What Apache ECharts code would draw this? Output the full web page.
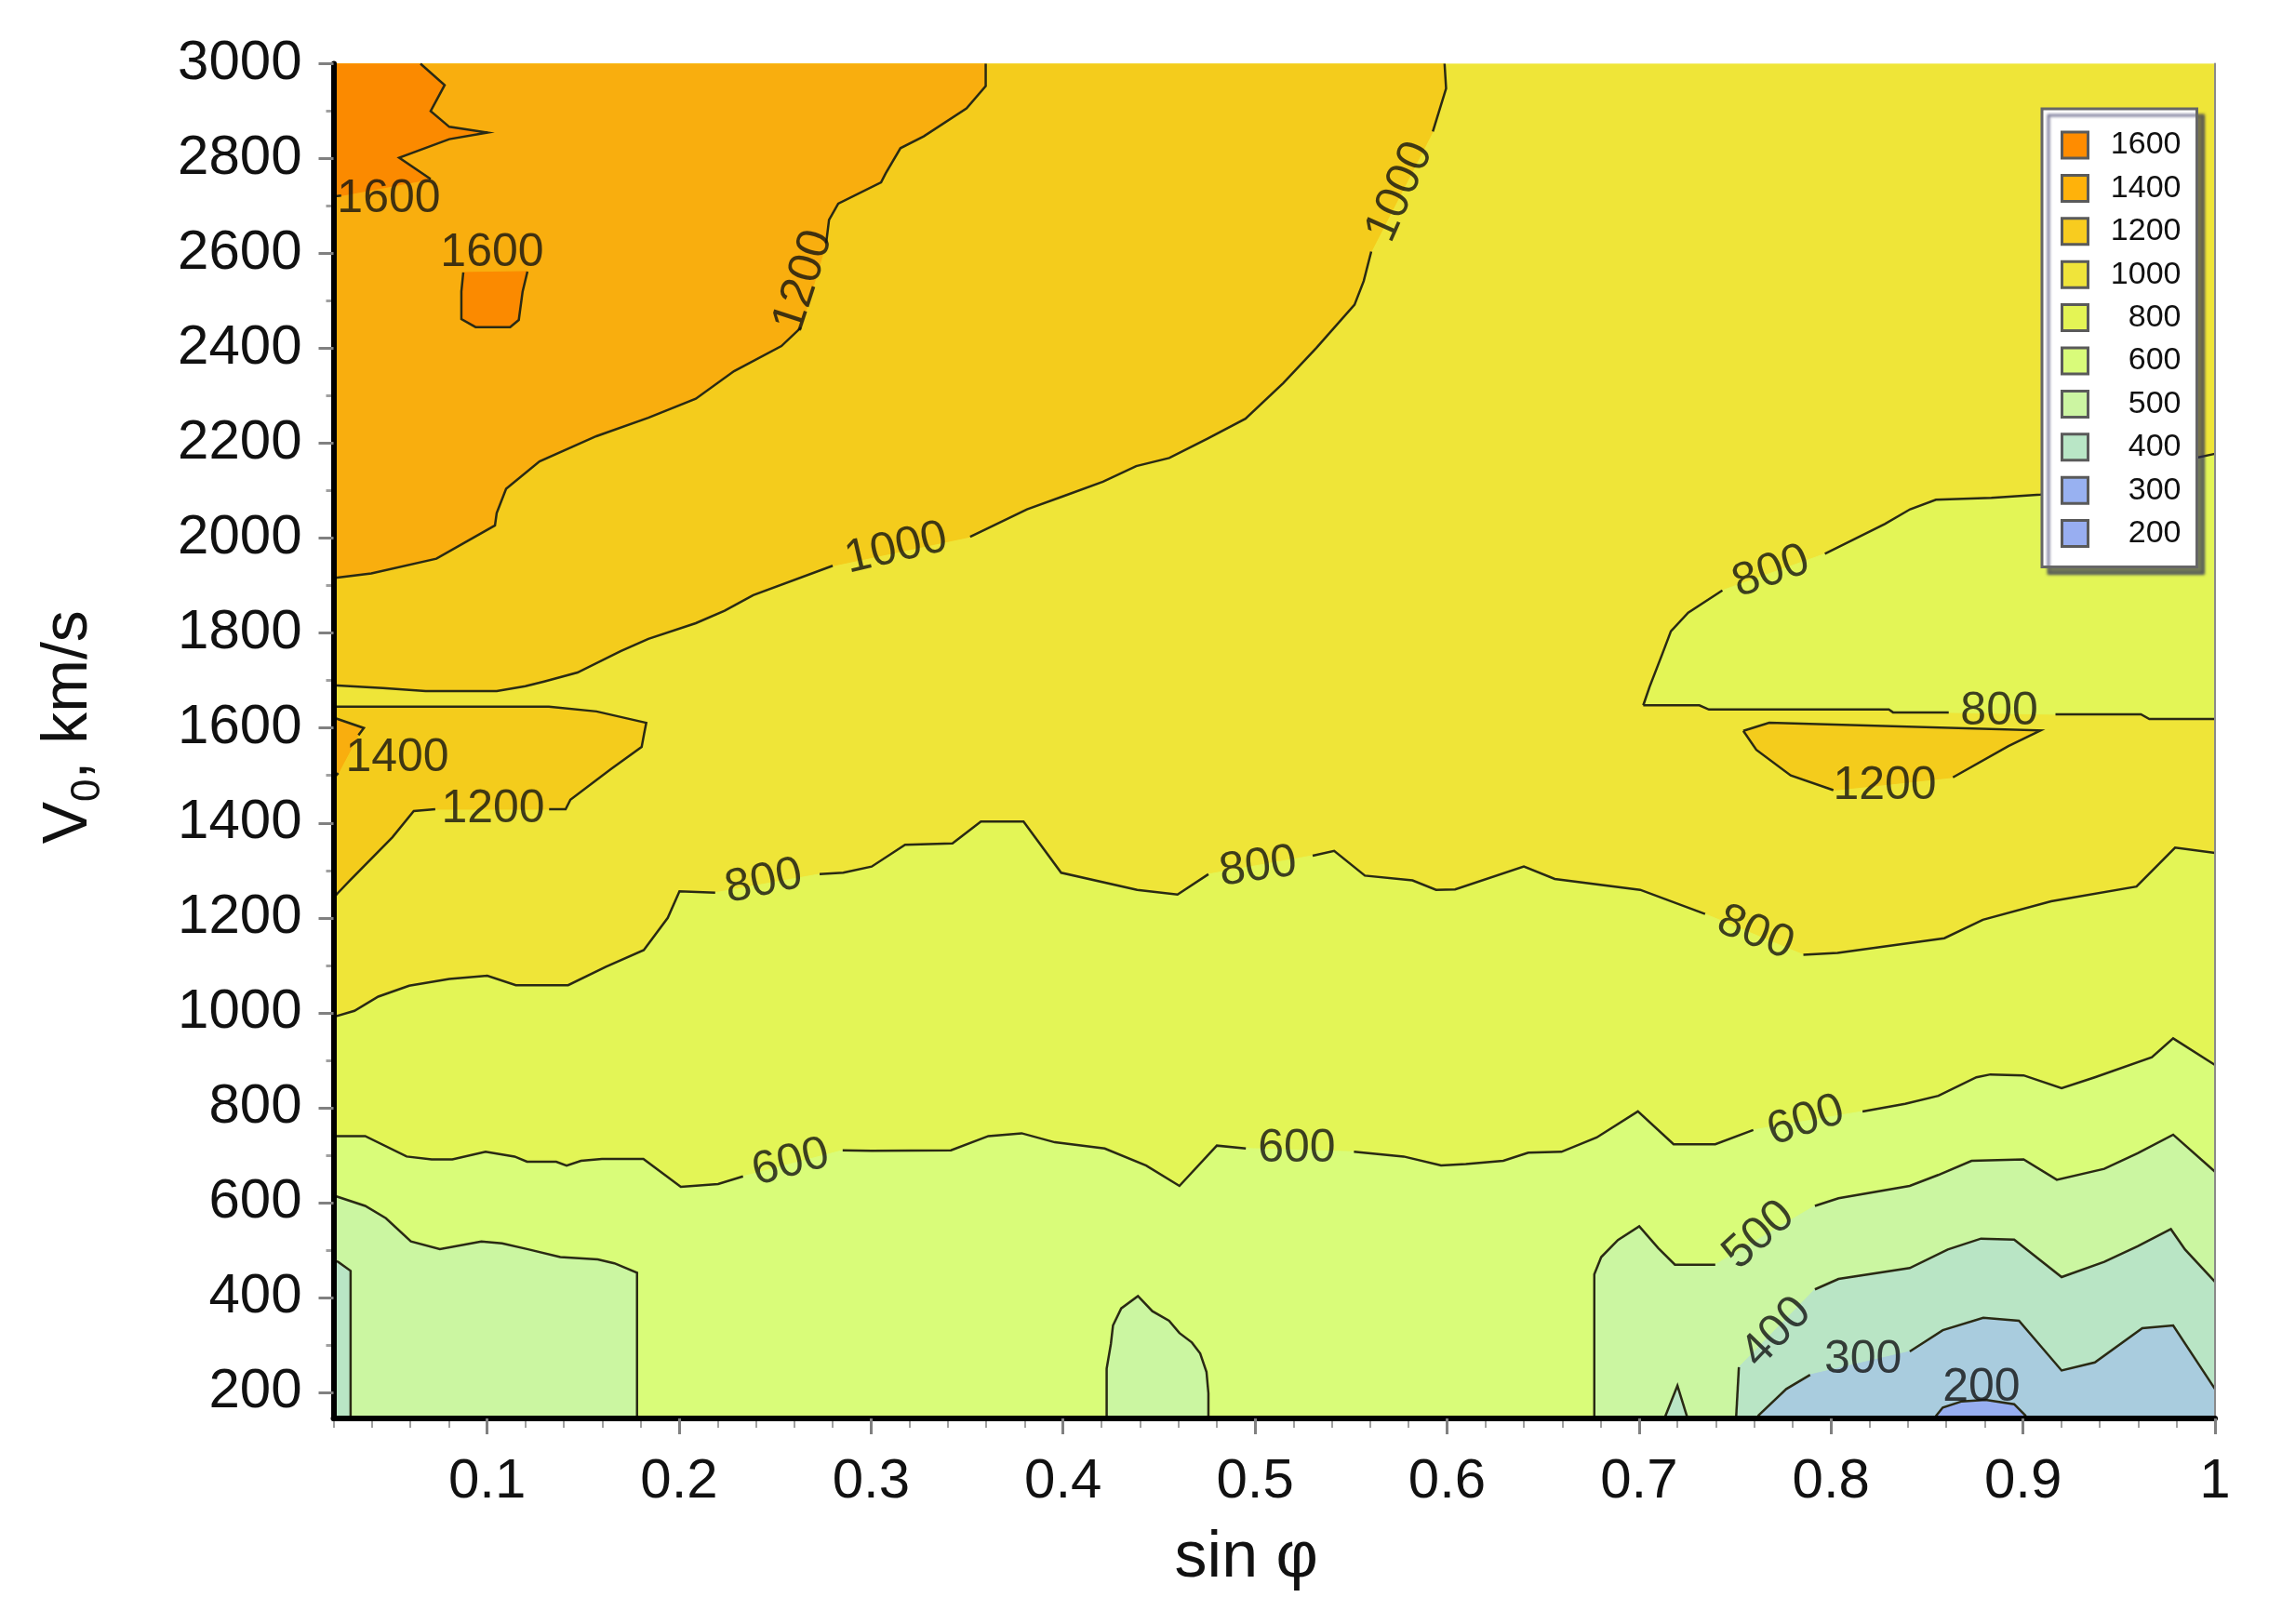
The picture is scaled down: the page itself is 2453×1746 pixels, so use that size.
<!DOCTYPE html>
<html>
<head>
<meta charset="utf-8">
<title>V0 vs sin φ</title>
<script src="https://cdn.jsdelivr.net/npm/echarts@6/dist/echarts.min.js"></script>
<style>
  html, body { margin: 0; padding: 0; background: #fff; }
  #chart { width: 2453px; height: 1746px; }
</style>
</head>
<body>
<div id="chart"></div>
<script>
// levels as listed in the legend, top to bottom
const levels = ['1600', '1400', '1200', '1000', '800', '600', '500', '400', '300', '200'];
const fillColors = ['#fb8a00', '#f9ae0e', '#f4cc1c', '#efe538', '#e3f556', '#d9fc79', '#cbf6a1', '#b9e5c5', '#a9ccde', '#97aef0'];
const legendColors = ['#ff8c00', '#ffb20a', '#f8cc1f', '#f0e43a', '#e4f455', '#d9fb7a', '#ccf5a2', '#b9e6c6', '#98b1f1', '#98aef1'];

const xTickLabels = [0.1, 0.2, 0.3, 0.4, 0.5, 0.6, 0.7, 0.8, 0.9, 1];
const yTickLabels = [200, 400, 600, 800, 1000, 1200, 1400, 1600, 1800, 2000, 2200, 2400, 2600, 2800, 3000];
const yMinorTicks = [300, 500, 700, 900, 1100, 1300, 1500, 1700, 1900, 2100, 2300, 2500, 2700, 2900];

// contour lines as [sin φ, V0]; null = break under a label
const line1600 = [[0.0653, 3000], [0.0779, 2955], [0.0706, 2900], [0.0803, 2867], [0.1002, 2855], [0.0803, 2841],
  [0.0542, 2802], [0.0706, 2757], null, [0.024, 2722], [0.02, 2720]];
const blob1600 = [[0.121, 2562], [0.1185, 2520], [0.1165, 2460], [0.112, 2445], [0.094, 2445], [0.0866, 2462],
  [0.0866, 2520], [0.0876, 2560]];
const line1200U = [[0.3597, 3000], [0.3597, 2953], [0.3497, 2906], [0.3274, 2847], [0.3153, 2822], [0.3076, 2769],
  [0.3052, 2750], [0.2829, 2705], [0.2781, 2671], [0.2766, 2622], null, [0.2635, 2444], [0.2533, 2405],
  [0.2286, 2352], [0.2087, 2294], [0.1840, 2254], [0.1569, 2215], [0.1273, 2162], [0.1099, 2104], [0.1050, 2053],
  [0.1041, 2027], [0.0736, 1957], [0.0397, 1926], [0.02, 1916]];
const line1000U = [[0.5987, 3000], [0.5995, 2948], [0.5926, 2857], null, [0.5605, 2604], [0.5566, 2542],
  [0.5518, 2492], [0.5319, 2401], [0.5147, 2327], [0.4950, 2252], [0.4752, 2210], [0.4553, 2169], [0.4381, 2152],
  [0.4208, 2119], [0.4011, 2090], [0.3812, 2061], [0.3516, 2003], null, [0.2800, 1942], [0.2386, 1880],
  [0.2237, 1847], [0.2087, 1821], [0.1840, 1788], [0.1695, 1762], [0.1471, 1717], [0.1297, 1698], [0.1199, 1688],
  [0.1050, 1678], [0.0680, 1678], [0.0457, 1684], [0.02, 1690]];
const edge1200L = [[0.02, 1645], [0.1322, 1645], [0.1570, 1635], [0.1829, 1611], [0.1817, 1586], [0.1805, 1560],
  [0.1644, 1513], [0.1434, 1449], [0.1409, 1429], [0.1323, 1429], null, [0.0730, 1429], [0.0618, 1425],
  [0.0507, 1370], [0.0284, 1278], [0.0222, 1252], [0.02, 1242]];
const edge1400L = [[0.02, 1622], [0.0358, 1600], [0.0330, 1585], null, [0.0225, 1505], [0.02, 1494]];
const blob1200R = [[0.7543, 1594], [0.7678, 1611], [0.9091, 1595], [0.8924, 1562], [0.8635, 1496], null,
  [0.8012, 1469], [0.7790, 1500], [0.7611, 1554], [0.7543, 1594]];
const line800UR = [[0.7022, 1648], [0.7055, 1687], [0.7122, 1757], [0.7166, 1804], [0.7256, 1843], [0.7434, 1890],
  null, [0.7968, 1967], [0.8280, 2030], [0.8412, 2061], [0.8546, 2081], [0.8835, 2085], [0.9091, 2092],
  [0.95, 2110], [0.985, 2165], [1, 2178]];
const line800H = [[0.7022, 1648], [0.7314, 1648], [0.7364, 1639], [0.8301, 1639], [0.8323, 1633], [0.8613, 1633],
  null, [0.9169, 1629], [0.9614, 1629], [0.9658, 1619], [1, 1619]];
const line800 = [[0.02, 991], [0.0309, 1004], [0.0433, 1034], [0.0594, 1057], [0.0803, 1071], [0.1001, 1078],
  [0.1150, 1058], [0.1422, 1058], [0.1619, 1097], [0.1816, 1132], [0.1941, 1200], [0.2002, 1256], [0.2188, 1253],
  null, [0.2732, 1292], [0.2855, 1295], [0.3003, 1308], [0.3177, 1354], [0.3424, 1357], [0.3572, 1403],
  [0.3794, 1403], [0.3990, 1295], [0.4386, 1259], [0.4596, 1249], [0.4757, 1292], null, [0.5300, 1331],
  [0.5412, 1341], [0.5572, 1289], [0.5820, 1279], [0.5943, 1259], [0.6042, 1260], [0.6400, 1308], [0.6561, 1282],
  [0.7006, 1259], [0.7344, 1208], null, [0.7856, 1122], [0.8034, 1126], [0.8590, 1157], [0.8791, 1196],
  [0.9146, 1235], [0.9591, 1266], [0.9792, 1348], [1, 1337]];
const line600 = [[0.02, 740], [0.0365, 740], [0.0581, 697], [0.0711, 691], [0.0819, 691], [0.0992, 707],
  [0.1143, 697], [0.1208, 686], [0.1360, 686], [0.1414, 678], [0.1489, 688], [0.1598, 692], [0.1814, 692],
  [0.2009, 633], [0.2203, 639], [0.2333, 655], null, [0.2852, 710], [0.3003, 709], [0.3416, 710], [0.3611, 740],
  [0.3784, 746], [0.3957, 727], [0.4217, 714], [0.4433, 678], [0.4606, 635], [0.4801, 720], [0.4952, 714], null,
  [0.5515, 707], [0.5774, 697], [0.5969, 678], [0.6098, 681], [0.6293, 688], [0.6423, 705], [0.6596, 707],
  [0.6779, 737], [0.6994, 792], [0.7180, 723], [0.7397, 723], [0.7595, 753], null, [0.8164, 792], [0.8386, 808],
  [0.8559, 825], [0.8757, 864], [0.8830, 870], [0.9003, 868], [0.9201, 841], [0.9374, 864], [0.9671, 906],
  [0.9782, 946], [1, 890]];
const line500L = [[0.02, 615], [0.0365, 593], [0.0473, 567], [0.0603, 518], [0.0754, 502], [0.0970, 518],
  [0.1078, 514], [0.1208, 502], [0.1381, 485], [0.1576, 480], [0.1663, 472], [0.1781, 452], [0.1781, 150]];
const bump500 = [[0.4227, 150], [0.4227, 250], [0.4249, 302], [0.4260, 341], [0.4303, 377], [0.4390, 403],
  [0.4465, 371], [0.4552, 351], [0.4606, 325], [0.4671, 305], [0.4714, 282], [0.4747, 243], [0.4757, 198],
  [0.4757, 150]];
const line500R = [[0.6767, 150], [0.6767, 449], [0.6803, 485], [0.6890, 521], [0.7001, 550], [0.7100, 504],
  [0.7187, 469], [0.7397, 469], null, [0.7916, 593], [0.8039, 609], [0.8410, 635], [0.8558, 658], [0.8732, 688],
  [0.9003, 691], [0.9176, 648], [0.9423, 671], [0.9597, 704], [0.9782, 743], [1, 665]];
const line400L = [[0.02, 478], [0.0224, 475], [0.0289, 456], [0.0289, 150]];
const spike400 = [[0.7137, 150], [0.72, 214], [0.7249, 150]];
const line400R = [[0.7506, 150], [0.7520, 253], null, [0.7916, 417], [0.8039, 439], [0.8410, 462], [0.8608, 501],
  [0.8781, 524], [0.8954, 522], [0.9201, 443], [0.9423, 475], [0.9597, 508], [0.9770, 544], [0.9844, 501],
  [1, 433]];
const line300 = [[0.7619, 150], [0.7767, 207], [0.7891, 237], null, [0.8410, 286], [0.8582, 331], [0.8793, 357],
  [0.8979, 351], [0.9201, 246], [0.9374, 263], [0.9621, 335], [0.9782, 341], [1, 207]];
const bump200 = [[0.8546, 150], [0.8582, 168], [0.8681, 181], [0.8805, 184], [0.8954, 175], [0.9015, 150]];

// labels sitting on the contour lines
const contourLabelText = ['1600', '1600', '1200', '1000', '1000', '1400', '1200', '800', '800', '800', '800', '800',
  '1200', '600', '600', '600', '500', '400', '300', '200'];
const contourLabelX = [0.0488, 0.1026, 0.2649, 0.5755, 0.3131, 0.0532, 0.1031, 0.2441, 0.5016, 0.7606, 0.7688,
  0.8876, 0.8280, 0.2581, 0.5217, 0.7869, 0.7625, 0.7717, 0.8167, 0.8783];
const contourLabelY = [2715, 2601, 2542, 2730, 1978, 1537, 1429, 1276, 1307, 1168, 1929, 1635, 1477, 684, 714, 772,
  531, 326, 268, 210];
const contourLabelAngle = [0, 0, 72, 66, 13, 0, 0, 12, 8, -22, 20, 0, 0, 15, 0, 18, 42, 46, 0, 0];

// --- build filled regions from the lines ---
const X0 = 0.02, X1 = 1, YB = 150, YT = 3000;
const pts = a => a.filter(p => p);
const regions = {
  '1000': [[[X0, YB], [X1, YB], [X1, YT], [X0, YT]]],
  '1200': [[[X0, YT], ...pts(line1000U)], pts(edge1200L), pts(blob1200R)],
  '1400': [[[X0, YT], ...pts(line1200U)], pts(edge1400L)],
  '1600': [[[X0, YT], ...pts(line1600)], blob1600],
  '800': [[...pts(line800), [X1, YB], [X0, YB]], [...pts(line800UR), ...pts(line800H).reverse()]],
  '600': [[...pts(line600), [X1, YB], [X0, YB]]],
  '500': [[...line500L, [X0, YB]], bump500, [...pts(line500R), [X1, YB]]],
  '400': [[...line400L, [X0, YB]], [...pts(line400R), [X1, YB]], spike400],
  '300': [[...pts(line300), [X1, YB]]],
  '200': [bump200]
};
const paintOrder = ['1000', '1200', '1400', '1600', '800', '600', '500', '400', '300', '200'];

// split lines at the null breaks
const allLines = [line1600, blob1600, line1200U, line1000U, edge1200L, edge1400L, blob1200R, line800UR, line800H,
  line800, line600, line500L, bump500, line500R, line400L, spike400, line400R, line300, bump200];
const segments = [];
allLines.forEach(line => {
  let cur = [];
  line.forEach(p => {
    if (p) { cur.push(p); } else { if (cur.length > 1) segments.push(cur); cur = []; }
  });
  if (cur.length > 1) segments.push(cur);
});

const font = "'Liberation Sans', Arial, sans-serif";

const regionSeries = paintOrder.map(level => {
  const color = fillColors[levels.indexOf(level)];
  const polys = regions[level];
  return {
    name: level,
    type: 'custom',
    clip: true,
    silent: true,
    itemStyle: { color: color },
    data: polys.map(p => p[0]),
    renderItem: (params, api) => ({
      type: 'polygon',
      shape: { points: polys[params.dataIndex].map(p => api.coord(p)) },
      style: { fill: color, stroke: color, lineWidth: 1 }
    })
  };
});

const chart = echarts.init(document.getElementById('chart'));

const option = {
  animation: false,
  backgroundColor: '#ffffff',
  grid: { left: 358.5, right: 72, top: 68.5, bottom: 221 },
  legend: {
    left: 2195,
    top: 117,
    orient: 'vertical',
    icon: 'rect',
    itemWidth: 28,
    itemHeight: 28,
    itemGap: 12.4,
    padding: [22, 17, 19, 20],
    backgroundColor: '#ffffff',
    borderColor: '#666666',
    borderWidth: 3,
    shadowColor: 'rgba(40, 40, 90, 0.6)',
    shadowBlur: 3,
    shadowOffsetX: 7,
    shadowOffsetY: 7,
    selectedMode: false,
    data: levels.map((l, i) => ({
      name: l,
      itemStyle: { color: legendColors[i], borderColor: '#5a5a5a', borderWidth: 3 }
    })),
    formatter: name => '{t|' + name + '}',
    textStyle: {
      rich: { t: { width: 95, height: 28, lineHeight: 28, align: 'right', fontSize: 34, fontFamily: font, color: '#111' } }
    }
  },
  xAxis: [
    {
      type: 'value',
      min: X0,
      max: X1,
      z: 10,
      name: 'sin φ',
      nameLocation: 'middle',
      nameGap: 116,
      nameTextStyle: { fontSize: 70, fontFamily: font, color: '#111', padding: [0, 60, 0, 0] },
      axisLine: { show: true, lineStyle: { color: '#000', width: 6 } },
      axisTick: { customValues: xTickLabels, length: 17, lineStyle: { color: '#808080', width: 3 } },
      axisLabel: { customValues: xTickLabels, margin: 38, fontSize: 60, fontFamily: font, color: '#111' },
      splitLine: { show: false }
    },
    {
      // minor ticks
      type: 'value',
      min: X0,
      max: X1,
      interval: 0.02,
      position: 'bottom',
      axisLine: { show: false },
      axisTick: { length: 10, lineStyle: { color: '#a0a0a0', width: 2 } },
      axisLabel: { show: false },
      splitLine: { show: false }
    }
  ],
  yAxis: [
    {
      type: 'value',
      min: 145,
      max: YT,
      z: 10,
      name: '{v|V}{s|0}{v|, km/s}',
      nameLocation: 'middle',
      nameRotate: 90,
      nameGap: 242,
      nameTextStyle: {
        padding: [0, 0, 0, 30],
        rich: {
          v: { fontSize: 68, fontFamily: font, color: '#111', lineHeight: 84 },
          s: { fontSize: 44, fontFamily: font, color: '#111', lineHeight: 48, verticalAlign: 'bottom' }
        }
      },
      axisLine: { show: true, lineStyle: { color: '#000', width: 6 } },
      axisTick: { customValues: yTickLabels, length: 16, lineStyle: { color: '#808080', width: 3 } },
      axisLabel: {
        customValues: yTickLabels, margin: 34, fontSize: 60, fontFamily: font, color: '#111',
        formatter: v => String(v)
      },
      splitLine: { show: false }
    },
    {
      // minor ticks
      type: 'value',
      min: 145,
      max: YT,
      position: 'left',
      axisLine: { show: false },
      axisTick: { customValues: yMinorTicks, length: 8, lineStyle: { color: '#a0a0a0', width: 3 } },
      axisLabel: { show: false },
      splitLine: { show: false }
    },
    {
      // thin frame on the right
      type: 'value',
      min: 145,
      max: YT,
      z: 10,
      position: 'right',
      axisLine: { show: true, lineStyle: { color: '#8a8a8a', width: 2 } },
      axisTick: { show: false },
      axisLabel: { show: false },
      splitLine: { show: false }
    }
  ],
  series: [
    ...regionSeries,
    {
      type: 'lines',
      coordinateSystem: 'cartesian2d',
      polyline: true,
      silent: true,
      z: 3,
      lineStyle: { color: '#2a2a14', width: 2.5, opacity: 1 },
      data: segments.map(s => ({ coords: s }))
    },
    {
      type: 'scatter',
      symbolSize: 1,
      silent: true,
      z: 4,
      itemStyle: { color: 'rgba(0,0,0,0)' },
      data: contourLabelText.map((t, i) => ({
        name: t,
        value: [contourLabelX[i], contourLabelY[i]],
        label: { rotate: contourLabelAngle[i] }
      })),
      label: {
        show: true,
        position: 'inside',
        formatter: '{b}',
        fontSize: 50,
        fontFamily: font,
        color: '#111'
      }
    }
  ]
};

chart.setOption(option);
</script>
</body>
</html>
